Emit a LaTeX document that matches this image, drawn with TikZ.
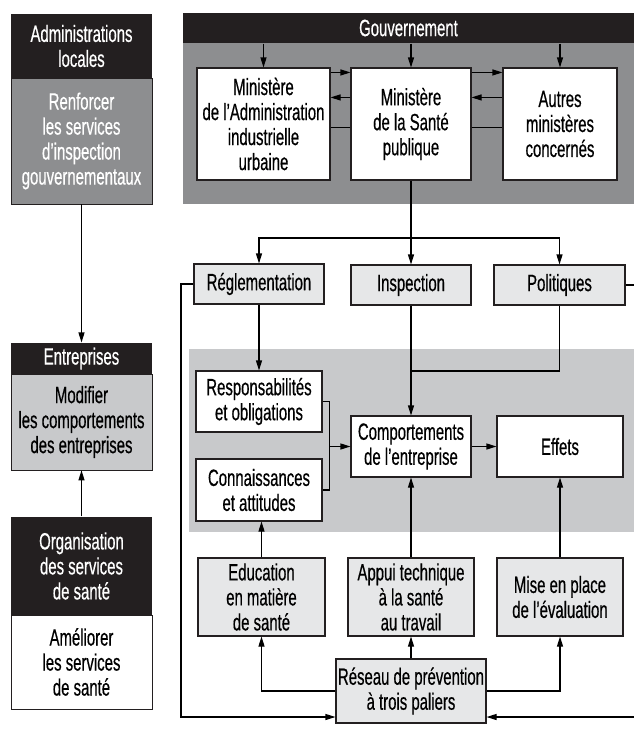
\documentclass[tikz,border=0pt]{standalone}
\usepackage{fontspec}
\setmainfont{Liberation Sans}[FakeStretch=0.635, FakeBold=0.5]
\usetikzlibrary{arrows.meta}
\definecolor{inkblack}{HTML}{231F20}
\definecolor{darkgrey}{HTML}{8D8E90}
\definecolor{midgrey}{HTML}{C8C9CB}
\definecolor{palegrey}{HTML}{E6E7E8}

\begin{document}
\begin{tikzpicture}[x=1pt, y=-1pt, line width=1.1pt, >={Triangle[length=10pt,width=6pt]},
  every node/.style={font=\fontsize{23.5}{25}\selectfont, align=center, inner sep=1.5pt},
  headbox/.style={fill=inkblack, text=white, minimum width=141pt},
  sidebox/.style={draw=inkblack, line width=0.7pt, minimum width=141pt},
  whitebox/.style={draw=inkblack, fill=white},
  palebox/.style={draw=inkblack, fill=palegrey}]
\useasboundingbox (0,0) rectangle (634,747);

% fonds gris
\fill [darkgrey] (183,43) rectangle (634,204);
\fill [midgrey] (189,349) rectangle (634,532);

% colonne de gauche
\node (adminhead) at (81.5,46) [headbox, minimum height=64pt] {Administrations\\locales};
\node (adminbody) at (81.5,141) [sidebox, fill=darkgrey, text=white, minimum height=126pt] {Renforcer\\les services\\d’inspection\\gouvernementaux};
\node (entrhead) at (81.5,358.5) [headbox, minimum height=31pt] {Entreprises};
\node (entrbody) at (81.5,422) [sidebox, fill=midgrey, minimum height=96pt] {Modifier\\les comportements\\des entreprises};
\node (orghead) at (81.5,566) [headbox, minimum height=98pt] {Organisation\\des services\\de santé};
\node (orgbody) at (81.5,662) [sidebox, fill=white, minimum height=94pt] {Améliorer\\les services\\de santé};

% gouvernement
\node (gouvbar) at (408.5,28) [fill=inkblack, text=white, minimum width=451pt, minimum height=30pt] {Gouvernement};
\node (minadmin) at (263.5,124) [whitebox, minimum width=133pt, minimum height=112pt] {Ministère\\de l’Administration\\industrielle\\urbaine};
\node (minsante) at (411,124) [whitebox, minimum width=120pt, minimum height=112pt] {Ministère\\de la Santé\\publique};
\node (autres) at (560,124) [whitebox, minimum width=114pt, minimum height=112pt] {Autres\\ministères\\concernés};

% instruments
\node (regl) at (259,284) [palebox, minimum width=130pt, minimum height=40pt] {Réglementation};
\node (insp) at (411,285) [palebox, minimum width=120pt, minimum height=40pt] {Inspection};
\node (polit) at (559.5,285) [palebox, minimum width=131pt, minimum height=40pt] {Politiques};

% entreprise
\node (resp) at (259,401.5) [whitebox, minimum width=126pt, minimum height=61pt] {Responsabilités\\et obligations};
\node (conn) at (259,490) [whitebox, minimum width=126pt, minimum height=62pt] {Connaissances\\et attitudes};
\node (comport) at (411,446.5) [whitebox, minimum width=120pt, minimum height=61pt] {Comportements\\de l’entreprise};
\node (effets) at (560,446.5) [whitebox, minimum width=126pt, minimum height=61pt] {Effets};

% services
\node (educ) at (261.5,597) [palebox, minimum width=127pt, minimum height=78pt] {Education\\en matière\\de santé};
\node (appui) at (411,597) [palebox, minimum width=126pt, minimum height=78pt] {Appui technique\\à la santé\\au travail};
\node (mise) at (560,597) [palebox, minimum width=126pt, minimum height=78pt] {Mise en place\\de l’évaluation};
\node (reseau) at (411,691) [palebox, minimum width=150pt, minimum height=64pt] {Réseau de prévention\\à trois paliers};

\coordinate (split) at (411,238);
\coordinate (pjoin) at (411,371);
\coordinate (bracket) at (329,446.5);
\coordinate (loopl) at (181,717);
\coordinate (loopr) at (634,717);

% liaisons
\draw [->] (adminbody.south) -- (entrhead.north);
\draw [->] (orghead.north) -- (entrbody.south);

\foreach \m in {minadmin, minsante, autres}
  \draw [->] (\m.north |- gouvbar.south) -- (\m.north);
\draw [->] ([yshift=-5pt]minadmin.north east) -- ([yshift=-5pt]minsante.north west);
\draw [->] ([yshift=-30pt]minsante.north west) -- ([yshift=-30pt]minadmin.north east);
\draw ([yshift=-60pt]minadmin.north east) -- ([yshift=-60pt]minsante.north west);
\draw [->] ([yshift=-5pt]minsante.north east) -- ([yshift=-5pt]autres.north west);
\draw [->] ([yshift=-30pt]autres.north west) -- ([yshift=-30pt]minsante.north east);
\draw ([yshift=-60pt]minsante.north east) -- ([yshift=-60pt]autres.north west);

\draw (minsante.south) -- (split);
\draw [->] (split) -- (insp.north);
\draw [->] (split) -| (regl.north);
\draw [->] (split) -| (polit.north);

\draw [->] (regl.south) -- (resp.north);
\draw [->] (insp.south) -- (comport.north);
\draw (polit.south) |- (pjoin);
\draw (resp.east) -- ++(7,0) |- (conn.east);
\draw [->] (bracket) -- (comport.west);
\draw [->] (comport.east) -- (effets.west);

\draw [->] (educ.north) -- (educ.north |- conn.south);
\draw [->] (appui.north) -- (comport.south);
\draw [->] (mise.north) -- (effets.south);
\draw [->] (reseau.north) -- (appui.south);
\draw [->] (reseau.west) -| (educ.south);
\draw [->] (reseau.east) -| (mise.south);

\draw [->] (regl.west) -| (loopl) -- (reseau.west |- loopl);
\draw (polit.east) -- (polit.east -| loopr);
\draw [->] (loopr) -- (reseau.east |- loopl);

\end{tikzpicture}
\end{document}
